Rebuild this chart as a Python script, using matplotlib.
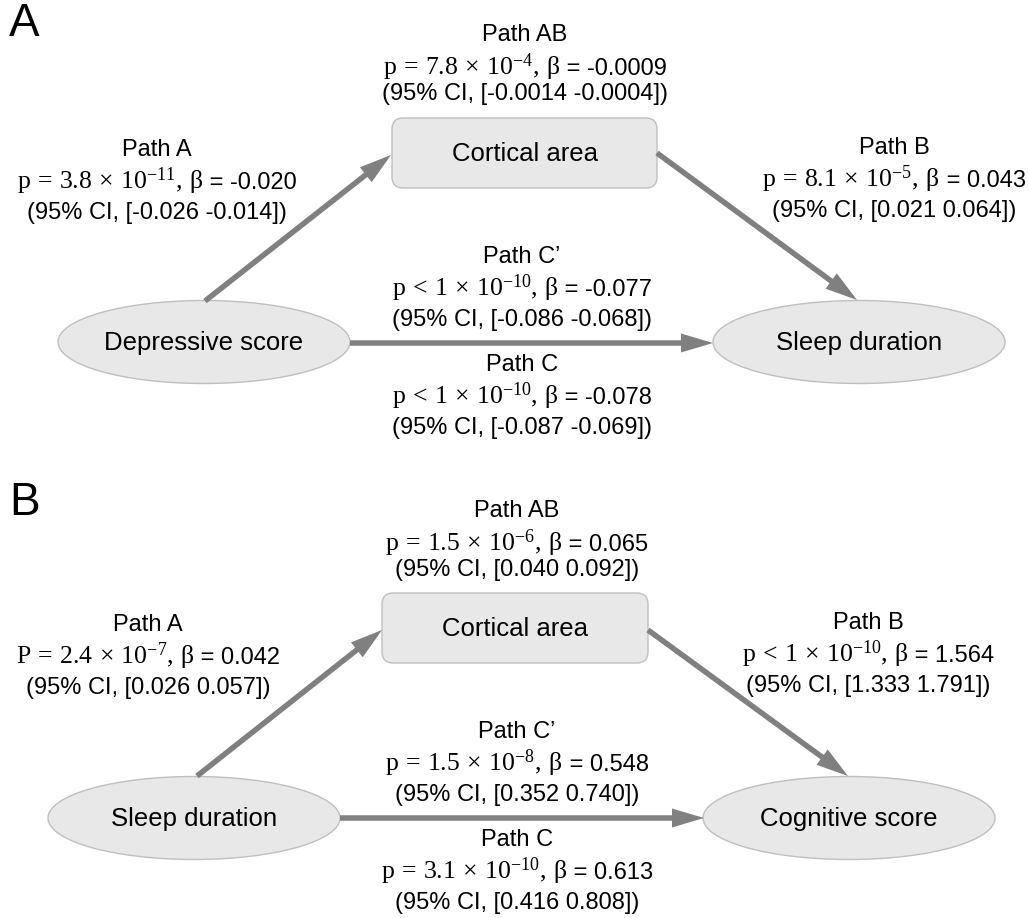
import matplotlib
matplotlib.use("Agg")
import matplotlib.pyplot as plt
from matplotlib.patches import Ellipse, FancyBboxPatch

plt.rcParams['font.family'] = ['Liberation Sans', 'DejaVu Sans']
plt.rcParams['mathtext.fontset'] = 'custom'
plt.rcParams['mathtext.rm'] = 'Liberation Serif'
plt.rcParams['mathtext.it'] = 'Liberation Serif'
plt.rcParams['mathtext.bf'] = 'Liberation Serif:bold'
plt.rcParams['mathtext.sf'] = 'Liberation Sans'

# ---------------- data ----------------
panel_letters = ["A", "B"]
A_nodes = ["Depressive score", "Cortical area", "Sleep duration"]
B_nodes = ["Sleep duration", "Cortical area", "Cognitive score"]
path_names = ["Path AB", "Path A", "Path B", "Path C\u2019", "Path C"]

A_p_sym = ["p", "p", "p", "p", "p"]
A_p_rel = ["=", "=", "=", "<", "<"]
A_p_mant = ["7.8", "3.8", "8.1", "1", "1"]
A_p_exp = [-4, -11, -5, -10, -10]
A_beta = ["-0.0009", "-0.020", "0.043", "-0.077", "-0.078"]
A_ci_lo = ["-0.0014", "-0.026", "0.021", "-0.086", "-0.087"]
A_ci_hi = ["-0.0004", "-0.014", "0.064", "-0.068", "-0.069"]

B_p_sym = ["p", "P", "p", "p", "p"]
B_p_rel = ["=", "=", "<", "=", "="]
B_p_mant = ["1.5", "2.4", "1", "1.5", "3.1"]
B_p_exp = [-6, -7, -10, -8, -10]
B_beta = ["0.065", "0.042", "1.564", "0.548", "0.613"]
B_ci_lo = ["0.040", "0.026", "1.333", "0.352", "0.416"]
B_ci_hi = ["0.092", "0.057", "1.791", "0.740", "0.808"]

# ---------------- figure ----------------
W, H = 1029, 918
fig = plt.figure(figsize=(W / 100, H / 100), dpi=100)
ax = fig.add_axes([0, 0, 1, 1])
ax.set_xlim(0, W)
ax.set_ylim(H, 0)
ax.axis('off')
renderer = fig.canvas.get_renderer()

FILL = '#e8e8e8'
EDGE = '#bfbfbf'
ARROW = '#808080'
FS_PATH = 17
FS_MATH = 18.5
FS_NODE = 18.5


def p_line(x, y_base, sym, rel, mant, exp, beta):
    m = (r"$\mathrm{%s}\,%s\,%s\,\times\,10^{%d},\,\beta$"
         % (sym, rel, mant, exp))
    s = " = %s" % beta
    t1 = ax.text(0, y_base, m, fontsize=FS_MATH, ha='left', va='baseline')
    t2 = ax.text(0, y_base, s, fontsize=FS_PATH, ha='left', va='baseline')
    w1 = t1.get_window_extent(renderer).width
    w2 = t2.get_window_extent(renderer).width
    x0 = x - (w1 + w2) / 2
    t1.set_x(x0)
    t2.set_x(x0 + w1)


def draw_panel(nodes, letter, lay, sym, rel, mant, exp, beta, lo, hi):
    ax.text(9, lay['letter_y'], letter, fontsize=33, ha='left', va='center')
    lx, ly = lay['left']
    rx, ry = lay['right']
    bx0, bx1, by0, by1 = lay['box']
    ax.add_patch(Ellipse((lx, ly), 292, 83, facecolor=FILL, edgecolor=EDGE, lw=1))
    ax.add_patch(Ellipse((rx, ry), 292, 83, facecolor=FILL, edgecolor=EDGE, lw=1))
    ax.add_patch(FancyBboxPatch((bx0, by0), bx1 - bx0, by1 - by0,
                                boxstyle="round,pad=0,rounding_size=11",
                                facecolor=FILL, edgecolor=EDGE, lw=1))
    ax.text(lx, ly + 1, nodes[0], fontsize=FS_NODE, ha='center', va='center')
    ax.text((bx0 + bx1) / 2, (by0 + by1) / 2 + 1, nodes[1], fontsize=FS_NODE,
            ha='center', va='center')
    ax.text(rx, ry + 1, nodes[2], fontsize=FS_NODE, ha='center', va='center')

    for (x0, y0), (x1, y1) in lay['arrows']:
        ax.arrow(x0, y0, x1 - x0, y1 - y0, width=5.5, head_width=19,
                 head_length=32, length_includes_head=True, color=ARROW, lw=0)

    for i, name in enumerate(path_names):
        x, y0 = lay['labels'][i]
        dp, dc = (34, 59) if i == 0 else (33, 63)
        ax.text(x, y0, name, fontsize=FS_PATH, ha='center', va='center')
        p_line(x, y0 + dp + 6, sym[i], rel[i], mant[i], exp[i], beta[i])
        ax.text(x, y0 + dc, "(95%% CI, [%s %s])" % (lo[i], hi[i]),
                fontsize=FS_PATH, ha='center', va='center')


layout_A = dict(
    letter_y=24,
    left=(204, 342), right=(859, 342), box=(392, 657, 118, 188),
    arrows=[((205, 301), (391, 155)), ((657, 153), (857, 300)),
            ((350, 343), (713, 343))],
    labels=[(525, 35), (157, 150), (894, 148), (522, 257), (522, 365)],
)
layout_B = dict(
    letter_y=503,
    left=(194, 818), right=(849, 818), box=(382, 648, 593, 663),
    arrows=[((197, 776), (382, 630)), ((648, 630), (848, 776)),
            ((340, 818), (704, 818))],
    labels=[(517, 511), (148, 625), (868, 623), (517, 732), (517, 840)],
)

draw_panel(A_nodes, panel_letters[0], layout_A, A_p_sym, A_p_rel, A_p_mant,
           A_p_exp, A_beta, A_ci_lo, A_ci_hi)
draw_panel(B_nodes, panel_letters[1], layout_B, B_p_sym, B_p_rel,
           B_p_mant, B_p_exp, B_beta, B_ci_lo, B_ci_hi)

fig.savefig("out.png", dpi=100, facecolor='white')
